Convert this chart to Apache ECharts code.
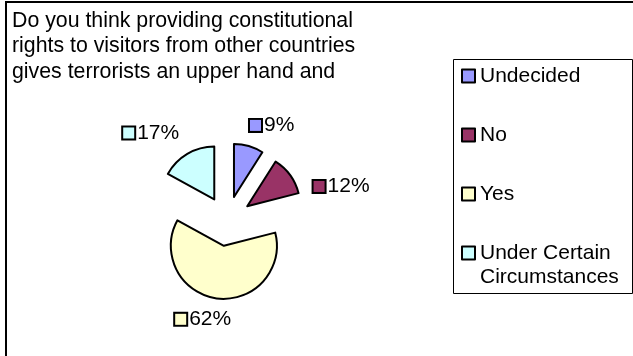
<!DOCTYPE html>
<html>
<head>
<meta charset="utf-8">
<script src="https://cdn.jsdelivr.net/npm/echarts@6/dist/echarts.min.js"></script>
<style>
  html, body { margin: 0; padding: 0; background: #fff; }
  #chart { width: 633px; height: 356px; }
</style>
</head>
<body>
<div id="chart"></div>
<script>
// Survey answers and their shares (percent)
const categories = ['Undecided', 'No', 'Yes', 'Under Certain Circumstances'];
const shares = [9, 12, 62, 17];
const titleLines = [
  'Do you think providing constitutional',
  'rights to visitors from other countries',
  'gives terrorists an upper hand and'
];

const sliceColors = ['#9999FF', '#993366', '#FFFFCC', '#CCFFFF'];
const FONT = '"Liberation Sans", Arial, sans-serif';

// nudges for the percentage labels, applied after the default outside placement
const labelNudge = [[-6, -13], [12, 16], [20, 13], [1, -14]];

const chart = echarts.init(document.getElementById('chart'), null, { renderer: 'canvas' });

const pieData = categories.map((name, i) => ({
  name: name,
  value: shares[i],
  selected: true,
  itemStyle: { color: sliceColors[i] },
  label: {
    rich: {
      key: {
        width: 11, height: 11,
        backgroundColor: sliceColors[i],
        borderColor: '#000', borderWidth: 2
      },
      pct: { fontSize: 21, fontFamily: FONT, color: '#000', padding: [0, 0, 0, 3] }
    }
  }
}));

chart.setOption({
  animation: false,
  backgroundColor: '#fff',
  title: {
    text: titleLines.join('\n'),
    left: 12, top: 8, padding: 0,
    textStyle: { fontFamily: FONT, fontSize: 21.3, fontWeight: 'normal', color: '#000', lineHeight: 25.5 }
  },
  legend: {
    orient: 'vertical',
    left: 461, top: 40, padding: 0,
    itemGap: -13,
    itemWidth: 13, itemHeight: 13,
    icon: 'rect',
    selectedMode: false,
    itemStyle: { borderColor: '#000', borderWidth: 2 },
    textStyle: { fontFamily: FONT, fontSize: 21, color: '#000', lineHeight: 24 },
    // blank lines keep each icon level with the first line of its name
    formatter: function (name) {
      if (name === 'Under Certain Circumstances') return '\nUnder Certain\nCircumstances';
      return '\n' + name + '\n';
    },
    data: categories
  },
  graphic: [
    { type: 'rect', shape: { x: 6, y: 2, width: 700, height: 400 }, style: { fill: 'none', stroke: '#000', lineWidth: 2 }, silent: true, z: -1 },
    { type: 'rect', shape: { x: 453.5, y: 59.5, width: 179, height: 234 }, style: { fill: 'none', stroke: '#000', lineWidth: 1 }, silent: true, z: -1 }
  ],
  series: [{
    type: 'pie',
    center: [227, 221],
    radius: 53,
    startAngle: 90,
    clockwise: true,
    selectedMode: 'multiple',
    selectedOffset: 25,
    avoidLabelOverlap: false,
    emphasis: { disabled: true },
    itemStyle: { borderColor: '#000', borderWidth: 2 },
    label: {
      show: true,
      position: 'outside',
      formatter: '{key|}{pct|{c}%}'
    },
    labelLine: { show: false, length: 8, length2: 0 },
    labelLayout: function (params) {
      const n = labelNudge[params.dataIndex] || [0, 0];
      return { dx: n[0], dy: n[1] };
    },
    data: pieData
  }]
});
</script>
</body>
</html>
